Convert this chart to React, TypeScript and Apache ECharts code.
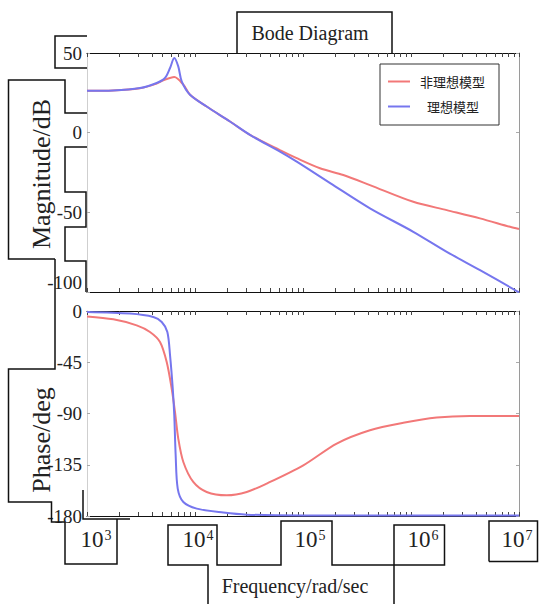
import React, { useEffect, useRef } from 'react';
import * as echarts from 'echarts';

// ---------- data (frequency in rad/s) ----------
const seriesNames = ['非理想模型', '理想模型'];

const magFreqIdeal = [1000, 1742, 3097, 4416, 5272, 5875, 6427, 6998, 7534, 8995, 12823, 21086, 32285, 61235, 87498, 179887, 416869, 1049542, 2142891, 4355119, 10000000];
const magIdeal = [26.3, 26.5, 28.0, 31.2, 34.3, 40.6, 46.9, 41.6, 32.2, 23.8, 16.4, 7.0, -1.4, -11.9, -18.2, -31.8, -47.5, -62.2, -74.8, -86.3, -100.2];

const magFreqReal = [1000, 1742, 3097, 4416, 5082, 6427, 7798, 8995, 12823, 21086, 32285, 61235, 87498, 143549, 236048, 416869, 1049542, 2142891, 4355119, 8260380, 10000000];
const magReal = [26.3, 26.5, 27.9, 30.8, 32.8, 34.9, 30.1, 23.8, 16.4, 7.0, -1.4, -10.9, -16.0, -22.3, -26.6, -32.9, -43.4, -48.6, -53.8, -59.1, -60.5];

const phaseFreqIdeal = [1000, 2500, 4111, 4920, 5546, 5875, 6223, 6427, 6622, 6918, 7798, 10375, 18281, 30130, 100000, 10000000];
const phaseIdeal = [-0.9, -2.3, -5.3, -9.7, -18.4, -38.9, -68.1, -91.6, -126.7, -155.9, -167.7, -173.5, -177, -178.8, -179.5, -179.6];

const phaseFreqReal = [1000, 1754, 2884, 3828, 4742, 5470, 6081, 6531, 6998, 7798, 9638, 12823, 19679, 30130, 46132, 100693, 205116, 416869, 849180, 1729816, 3515604, 10000000];
const phaseReal = [-4.8, -7.3, -12.6, -18.4, -27.2, -44.8, -68.1, -88.7, -112, -132.6, -150.1, -158.9, -161.8, -158.9, -151.5, -135.5, -116.4, -104.7, -98.2, -93.6, -92.2, -92.2];

const decadeTicks = [1e3, 1e4, 1e5, 1e6, 1e7];
const decadeExponents = [3, 4, 5, 6, 7];
const minorMultipliers = [1, 2, 3, 4, 5, 6, 7, 8, 9];
const magTicks = [-100, -50, 0, 50];
const phaseTicks = [-180, -135, -90, -45, 0];

const titleText = 'Bode Diagram';
const magName = 'Magnitude/dB';
const phaseName = 'Phase/deg';
const freqName = 'Frequency/rad/sec';

// ---------- styling ----------
const RED = '#f27878';
const BLUE = '#7676ee';
const SERIF = '"Liberation Serif", "DejaVu Serif", serif';
const CJK = '"Noto Sans CJK SC", "Noto Sans", sans-serif';
// horizontal nudge (px) of each decade label, as in the reference's boxed labels
const labelNudge = [9, 3, 7, 12, -2];

const allTicks: number[] = [];
decadeTicks.slice(0, -1).forEach((d) => minorMultipliers.forEach((m) => allTicks.push(d * m)));
allTicks.push(decadeTicks[decadeTicks.length - 1]);

const pairs = (f: number[], v: number[]) => f.map((x, i) => [x, v[i]]);

const richLabels: Record<string, any> = {};
decadeExponents.forEach((e, i) => {
  const n = labelNudge[i];
  richLabels['b' + e] = {
    fontSize: 23, fontFamily: SERIF, color: '#222',
    padding: [0, 0, 0, n > 0 ? 2 * n : 0],
  };
  richLabels['s' + e] = {
    fontSize: 14, fontFamily: SERIF, color: '#222', verticalAlign: 'top',
    padding: [0, n < 0 ? -2 * n : 0, 0, 1],
  };
});

function xAxisDef(gridIndex: number, position: 'top' | 'bottom', showLabel: boolean) {
  return {
    type: 'log',
    logBase: 10,
    gridIndex,
    position,
    min: decadeTicks[0],
    max: decadeTicks[decadeTicks.length - 1],
    axisLine: { show: true, onZero: false, lineStyle: { color: '#111', width: 1.2 } },
    axisTick: { show: true, inside: true, length: 4, customValues: allTicks, lineStyle: { color: '#444' } },
    minorTick: { show: false },
    splitLine: { show: false },
    axisLabel: showLabel
      ? {
          show: true,
          customValues: decadeTicks,
          margin: 12,
          formatter: (v: number) => {
            const e = Math.round(Math.log10(v));
            return `{b${e}|10}{s${e}|${e}}`;
          },
          rich: richLabels,
        }
      : { show: false },
  };
}

function yAxisDef(gridIndex: number, position: 'left' | 'right', ticks: number[], showLabel: boolean, liftMin = false) {
  return {
    type: 'value',
    gridIndex,
    position,
    min: ticks[0],
    max: ticks[ticks.length - 1],
    interval: ticks[1] - ticks[0],
    axisLine: { show: true, onZero: false, lineStyle: { color: position === 'left' ? '#cfcfcf' : '#9a9a9a', width: 1 } },
    axisTick: { show: true, inside: true, length: 3, lineStyle: { color: '#aaa' } },
    splitLine: { show: false },
    axisLabel: showLabel
      ? {
          show: true, margin: 5, fontSize: 19, fontFamily: SERIF, color: '#222',
          ...(liftMin ? { verticalAlignMinLabel: 'bottom' } : {}),
        }
      : { show: false },
  };
}

const BOX = { stroke: '#111', lineWidth: 1.5, fill: null as any };
const boxLines: number[][][] = [
  // title box
  [[237, 53], [237, 12], [392, 12], [392, 53]],
  // "50" box
  [[87, 36], [55, 36], [55, 68], [87, 68]],
  // magnitude label box
  [[87, 113], [65, 113], [65, 80], [8.5, 80], [8.5, 259], [55, 259]],
  [[87, 147], [65, 147], [65, 192], [86, 192], [86, 227], [65, 227], [65, 261], [86, 261], [86, 292]],
  // -100 / phase label box
  [[55, 259], [55, 369], [8.5, 369], [8.5, 502], [51.5, 502], [51.5, 522], [65, 522]],
  [[83, 490], [83, 519], [130, 519]],
  // 10^3 box
  [[65, 522], [65, 564], [117, 564], [117, 519]],
  // 10^4 .. 10^6 boxes + frequency box
  [[208, 604], [208, 565], [168, 565], [168, 525], [217, 525], [217, 565], [281, 565], [281, 521], [332, 521], [332, 565], [394, 565], [394, 525], [444.5, 525], [444.5, 565], [394, 565], [394, 604]],
  // 10^7 box
  [[489, 561.5], [489, 521], [537.5, 521], [537.5, 561.5], [489, 561.5]],
];

export default function App() {
  const ref = useRef<HTMLDivElement>(null);

  useEffect(() => {
    if (!ref.current) return;
    const chart = echarts.init(ref.current, null, { renderer: 'svg' });

    const graphics: any[] = boxLines.map((pts) => ({
      type: 'polyline',
      shape: { points: pts },
      style: { ...BOX },
      z: 1,
      silent: true,
    }));
    const textEl = (text: string, x: number, y: number, size: number, rotation = 0) => ({
      type: 'text',
      x,
      y,
      rotation,
      z: 5,
      style: {
        text,
        fontSize: size,
        fontFamily: SERIF,
        fill: '#222',
        align: 'center',
        verticalAlign: 'middle',
        textAlign: 'center',
        textVerticalAlign: 'middle',
      },
    });
    graphics.push(textEl(titleText, 310, 33, 20));
    graphics.push(textEl(magName, 41, 174, 26, Math.PI / 2));
    graphics.push(textEl(phaseName, 41, 440, 26, Math.PI / 2));
    graphics.push(textEl(freqName, 295, 586, 20));

    const lineSeries = (name: string, axis: number, data: number[][], color: string, z: number) => ({
      name, type: 'line', xAxisIndex: axis, yAxisIndex: axis, data,
      symbol: 'none', smooth: 0.3,
      lineStyle: { color, width: 2 }, itemStyle: { color }, z,
    });

    chart.setOption({
      animation: false,
      backgroundColor: '#fff',
      grid: [
        { left: 87, top: 53, width: 432, height: 239, containLabel: false, outerBoundsMode: 'none' },
        { left: 87, top: 311, width: 432, height: 205, containLabel: false, outerBoundsMode: 'none' },
      ],
      xAxis: [
        xAxisDef(0, 'bottom', false),
        xAxisDef(0, 'top', false),
        xAxisDef(1, 'bottom', true),
        xAxisDef(1, 'top', false),
      ],
      yAxis: [
        yAxisDef(0, 'left', magTicks, true, true),
        yAxisDef(0, 'right', magTicks, false),
        yAxisDef(1, 'left', phaseTicks, true),
        yAxisDef(1, 'right', phaseTicks, false),
      ],
      legend: {
        orient: 'vertical',
        left: 380,
        top: 64,
        padding: [11, 14, 12, 8],
        itemGap: 12,
        icon: 'rect',
        itemWidth: 22,
        itemHeight: 2,
        borderColor: '#333',
        borderWidth: 1,
        backgroundColor: '#fff',
        textStyle: { fontFamily: CJK, fontSize: 13, color: '#222', padding: [0, 0, 0, 5] },
        data: [
          { name: seriesNames[0] },
          { name: seriesNames[1], textStyle: { fontFamily: CJK, fontSize: 13, color: '#222', padding: [0, 0, 0, 12] } },
        ],
      },
      graphic: { elements: graphics },
      series: [
        lineSeries(seriesNames[0], 0, pairs(magFreqReal, magReal), RED, 3),
        lineSeries(seriesNames[1], 0, pairs(magFreqIdeal, magIdeal), BLUE, 4),
        lineSeries(seriesNames[0], 2, pairs(phaseFreqReal, phaseReal), RED, 3),
        lineSeries(seriesNames[1], 2, pairs(phaseFreqIdeal, phaseIdeal), BLUE, 4),
      ],
    });

    return () => chart.dispose();
  }, []);

  return (
    <div
      ref={ref}
      style={{ position: 'fixed', left: 0, top: 0, width: 539, height: 604, background: '#fff' }}
    />
  );
}
